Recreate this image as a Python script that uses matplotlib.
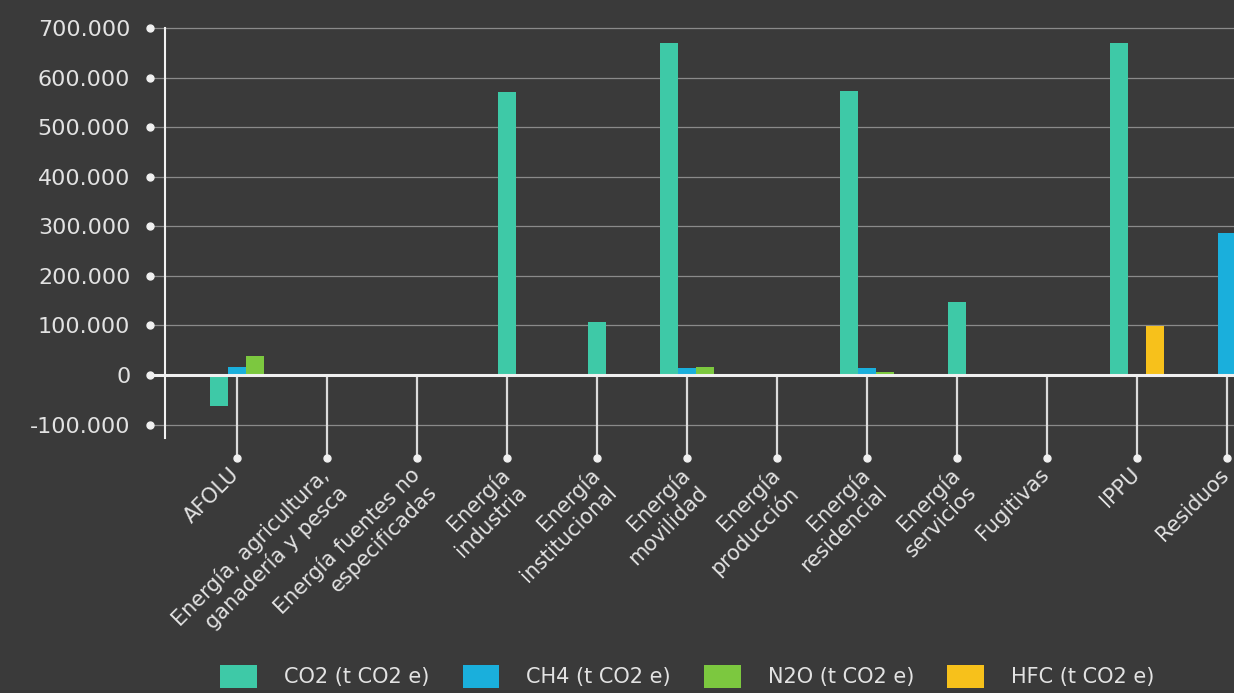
import matplotlib
matplotlib.use("Agg")
import matplotlib.pyplot as plt
from matplotlib import transforms as mtrans
from matplotlib.patches import Patch
from matplotlib.ticker import FuncFormatter

# ---- data (t CO2 e); None = no bar for that gas in the sector ----
categories = [
    "AFOLU",
    "Energía, agricultura,\nganadería y pesca",
    "Energía fuentes no\nespecificadas",
    "Energía\nindustria",
    "Energía\ninstitucional",
    "Energía\nmovilidad",
    "Energía\nproducción",
    "Energía\nresidencial",
    "Energía\nservicios",
    "Fugitivas",
    "IPPU",
    "Residuos",
]
co2 = [-62000, None, None, 571000, 107000, 670000, None, 572000, 147000, None, 670000, 1500]
ch4 = [16000, None, None, None, None, 14000, None, 15000, None, None, None, 287000]
n2o = [38000, None, None, None, None, 16000, None, 6000, None, None, 1000, 2000]
hfc = [None, None, None, None, None, None, None, None, None, None, 98000, None]

series_names = ["CO2 (t CO2 e)", "CH4 (t CO2 e)", "N2O (t CO2 e)", "HFC (t CO2 e)"]
series_colors = ["#3ec9a7", "#1aafdc", "#7cc83f", "#f7c11b"]
y_ticks = [-100000, 0, 100000, 200000, 300000, 400000, 500000, 600000, 700000]

BG = "#3a3a3a"
TXT = "#e2e2e2"
GRID = "#8a8a8a"
FONT = "DejaVu Sans"

plt.rcParams["font.family"] = [FONT]

fig = plt.figure(figsize=(12.34, 6.93), dpi=100, facecolor=BG)
ax = fig.add_axes([0.1337, 0.368, 0.8663, 0.5916])
ax.set_facecolor(BG)

# grouped bars: only the gases present in a sector share its slot, centred on the tick
W = 0.197
series = [co2, ch4, n2o, hfc]
for i in range(len(categories)):
    present = [k for k in range(len(series)) if series[k][i] is not None]
    n = len(present)
    for j, k in enumerate(present):
        ax.bar(i + (j - (n - 1) / 2) * W, series[k][i], width=W,
               color=series_colors[k], linewidth=0, zorder=3)

ax.set_xlim(-0.8, 11.078)
ax.set_ylim(-127000, 700000)

# horizontal grid starting at the tick dots left of the axis
x0 = -15 / 1069
ytr = ax.get_yaxis_transform()
for v in y_ticks:
    if v == 0:
        ax.plot([x0, 1], [v, v], color="#f0f0f0", lw=2.2, transform=ytr,
                clip_on=False, zorder=4, solid_capstyle="butt")
    else:
        ax.plot([x0, 1], [v, v], color=GRID, lw=0.9, transform=ytr,
                clip_on=False, zorder=1)
ax.plot([x0] * len(y_ticks), y_ticks, "o", color="#f0f0f0", ms=5,
        transform=ytr, clip_on=False, zorder=5)

ax.set_yticks(y_ticks)
ax.yaxis.set_major_formatter(FuncFormatter(lambda v, p: f"{v:,.0f}".replace(",", ".")))
ax.tick_params(axis="y", length=0, pad=25, labelsize=16, labelcolor=TXT)

# category stems hanging from the zero line, ending in a dot
stem_end = -168000
xs = list(range(len(categories)))
ax.vlines(xs, stem_end, 0, color="#dcdcdc", lw=1.6, clip_on=False, zorder=2)
ax.plot(xs, [stem_end] * len(xs), "o", color="#f0f0f0", ms=5, clip_on=False, zorder=5)

ax.set_xticks(xs)
ax.set_xticklabels(categories, rotation=45, ha="right", va="top",
                   rotation_mode="anchor", fontsize=15, color=TXT, linespacing=1.25)
ax.tick_params(axis="x", length=0, pad=19)
shift = mtrans.ScaledTranslation(-8 / 100, 0, fig.dpi_scale_trans)
for lab in ax.get_xticklabels():
    lab.set_transform(lab.get_transform() + shift)

for s in ["top", "right", "bottom"]:
    ax.spines[s].set_visible(False)
ax.spines["left"].set_color("#f0f0f0")
ax.spines["left"].set_linewidth(1.5)
ax.spines["left"].set_zorder(4)

handles = [Patch(facecolor=c, edgecolor="none") for c in series_colors]
fig.legend(handles, series_names, loc="center", bbox_to_anchor=(0.557, 0.024),
           ncol=4, frameon=False, fontsize=15, labelcolor=TXT,
           handlelength=1.75, handleheight=1.3, handletextpad=1.3, columnspacing=1.6)

fig.savefig("out.png", dpi=100, facecolor=BG)
